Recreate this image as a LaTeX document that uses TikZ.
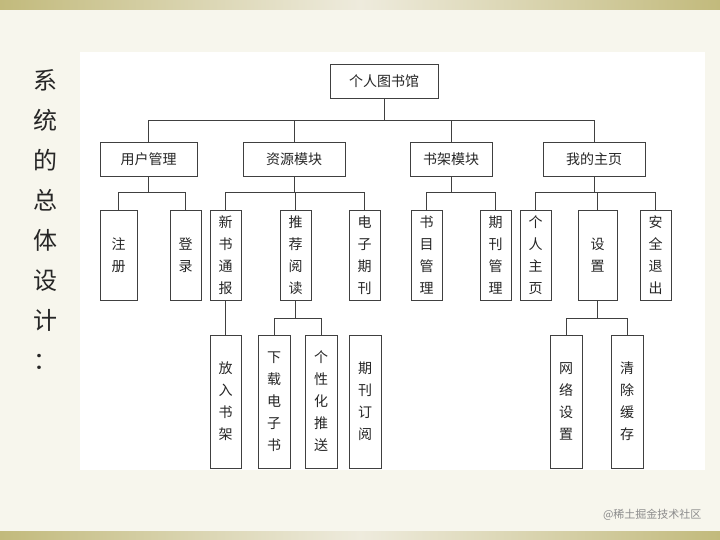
\documentclass[tikz,border=0pt]{standalone}
\usepackage{fontspec}
\newfontfamily\cjk{Noto Sans CJK SC}
\definecolor{khaki}{HTML}{C2BA7C}
\definecolor{pale}{HTML}{EEEBDD}
\begin{document}
\begin{tikzpicture}[x=1pt,y=1pt,
  bx/.style={draw=black!75,line width=0.8pt,fill=white,inner sep=0pt,font=\cjk\fontsize{14}{22}\selectfont,align=center,text=black!85},
  ln/.style={draw=black!75,line width=0.8pt}]
\useasboundingbox (0,0) rectangle (720,-540);
\fill[black!4!white!96!yellow] (0,0) rectangle (720,-540);
\shade[left color=khaki, right color=pale] (0,0) rectangle (360,-10);
\shade[right color=khaki, left color=pale] (360,0) rectangle (720,-10);
\shade[left color=khaki, right color=pale] (0,-531) rectangle (360,-540);
\shade[right color=khaki, left color=pale] (360,-531) rectangle (720,-540);
\fill[white] (80,-52) rectangle (705,-470);
\node[font=\cjk\fontsize{24}{40}\selectfont,align=center,anchor=north,text=black!85] (title) at (45,-66) {系\\统\\的\\总\\体\\设\\计\\：};
\newcommand{\bxn}[6]{\node[bx,minimum width=#4-#2,minimum height=#5-#3] (#1) at ({(#2+#4)/2},{-(#3+#5)/2}) {#6};}
\bxn{root}{330}{64}{438}{98}{个人图书馆}
\bxn{u}{100}{142}{197}{176}{用户管理}
\bxn{r}{243}{142}{345}{176}{资源模块}
\bxn{s}{410}{142}{492}{176}{书架模块}
\bxn{h}{543}{142}{645}{176}{我的主页}
\bxn{u1}{100}{210}{137}{300}{注\\册}
\bxn{u2}{170}{210}{201}{300}{登\\录}
\bxn{r1}{210}{210}{241}{300}{新\\书\\通\\报}
\bxn{r2}{280}{210}{311}{300}{推\\荐\\阅\\读}
\bxn{r3}{349}{210}{380}{300}{电\\子\\期\\刊}
\bxn{s1}{411}{210}{442}{300}{书\\目\\管\\理}
\bxn{s2}{480}{210}{511}{300}{期\\刊\\管\\理}
\bxn{h1}{520}{210}{551}{300}{个\\人\\主\\页}
\bxn{h2}{578}{210}{617}{300}{设\\置}
\bxn{h3}{640}{210}{671}{300}{安\\全\\退\\出}
\bxn{a1}{210}{335}{241}{468}{放\\入\\书\\架}
\bxn{a2}{258}{335}{290}{468}{下\\载\\电\\子\\书}
\bxn{a3}{305}{335}{337}{468}{个\\性\\化\\推\\送}
\bxn{a4}{349}{335}{381}{468}{期\\刊\\订\\阅}
\bxn{b1}{550}{335}{582}{468}{网\\络\\设\\置}
\bxn{b2}{611}{335}{643}{468}{清\\除\\缓\\存}
\coordinate (L1) at (0,-120);
\coordinate (L2) at (0,-192);
\coordinate (L3) at (0,-318);
\draw[ln] (root.south) -- (root.south|-L1);
\draw[ln] (u.north|-L1) -- (h.north|-L1);
\foreach \c in {u,r,s,h} \draw[ln] (\c.north) -- (\c.north|-L1);
\foreach \p/\cs/\f/\l in {u/{u1,u2}/u1/u2, r/{r1,r2,r3}/r1/r3, s/{s1,s2}/s1/s2, h/{h1,h2,h3}/h1/h3}{
  \draw[ln] (\p.south) -- (\p.south|-L2);
  \draw[ln] (\f.north|-L2) -- (\l.north|-L2);
  \foreach \c in \cs \draw[ln] (\c.north) -- (\c.north|-L2);
}
\draw[ln] (r1.south) -- (a1.north);
\foreach \p/\f/\l in {r2/a2/a3, h2/b1/b2}{
  \draw[ln] (\p.south) -- (\p.south|-L3);
  \draw[ln] (\f.north|-L3) -- (\l.north|-L3);
  \draw[ln] (\f.north) -- (\f.north|-L3);
  \draw[ln] (\l.north) -- (\l.north|-L3);
}
\node[font=\cjk\fontsize{11}{13}\selectfont,text=black!45,anchor=east] (wm) at (705,-515) {@稀土掘金技术社区};
\end{tikzpicture}
\end{document}
